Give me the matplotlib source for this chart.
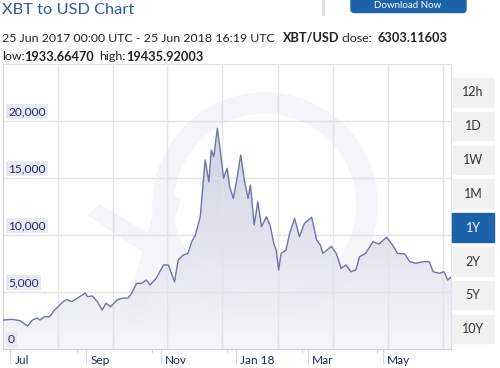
"""XBT to USD one-year chart, redrawn with matplotlib."""

import matplotlib

matplotlib.use("Agg")
import matplotlib.dates as mdates
import matplotlib.pyplot as plt
import matplotlib.transforms as mtransforms
import numpy as np
import pandas as pd
from matplotlib.patches import FancyBboxPatch, Polygon, Rectangle, Wedge

W, H = 500, 368

# ---- data ---------------------------------------------------------------
dates = [
    "2017-06-25", "2017-07-03", "2017-07-09", "2017-07-15", "2017-07-19",
    "2017-07-23", "2017-07-25", "2017-07-29", "2017-08-02", "2017-08-06",
    "2017-08-08", "2017-08-13", "2017-08-16", "2017-08-20", "2017-08-25",
    "2017-08-31", "2017-09-02", "2017-09-06", "2017-09-10", "2017-09-14",
    "2017-09-17", "2017-09-21", "2017-09-26", "2017-09-30", "2017-10-05",
    "2017-10-08", "2017-10-12", "2017-10-16", "2017-10-20", "2017-10-23",
    "2017-10-28", "2017-11-03", "2017-11-07", "2017-11-12", "2017-11-15",
    "2017-11-19", "2017-11-23", "2017-11-26", "2017-11-29", "2017-12-03",
    "2017-12-07", "2017-12-10", "2017-12-12", "2017-12-14", "2017-12-17",
    "2017-12-19", "2017-12-22", "2017-12-25", "2017-12-27", "2017-12-30",
    "2018-01-02", "2018-01-05", "2018-01-08", "2018-01-11", "2018-01-13",
    "2018-01-16", "2018-01-19", "2018-01-22", "2018-01-26", "2018-01-29",
    "2018-02-01", "2018-02-03", "2018-02-05", "2018-02-07", "2018-02-11",
    "2018-02-14", "2018-02-18", "2018-02-22", "2018-02-26", "2018-03-04",
    "2018-03-08", "2018-03-11", "2018-03-13", "2018-03-20", "2018-03-24",
    "2018-03-28", "2018-04-01", "2018-04-05", "2018-04-09", "2018-04-12",
    "2018-04-17", "2018-04-23", "2018-04-28", "2018-05-04", "2018-05-09",
    "2018-05-13", "2018-05-19", "2018-05-23", "2018-05-28", "2018-06-03",
    "2018-06-08", "2018-06-11", "2018-06-16", "2018-06-20", "2018-06-23",
    "2018-06-25 16:19",
]
close = [
    2540, 2600, 2480, 2010, 2540, 2720, 2540, 2830, 2830, 3420,
    3600, 4150, 4360, 4150, 4470, 4910, 4590, 4650, 4150, 3420,
    4010, 3710, 4300, 4450, 4470, 4880, 5760, 5760, 6050, 5610,
    6200, 7370, 7370, 5900, 7800, 8240, 8390, 9410, 10000, 11600,
    16580, 14670, 17450, 16870, 19360, 17740, 14970, 15850, 14230, 13220,
    14970, 17010, 14820, 13220, 14380, 10870, 12920, 10730, 11600, 10870,
    9270, 8680, 6930, 8390, 8680, 10150, 11460, 9850, 11020, 11550,
    9560, 9120, 8390, 9000, 8390, 7080, 7370, 6780, 6930, 8090,
    8390, 9410, 9210, 9800, 9120, 8390, 8330, 7660, 7520, 7660,
    7660, 6780, 6640, 6780, 6050, 6303,
]

y_ticks = [0, 5000, 10000, 15000, 20000]
month_ticks = ["2017-07-01", "2017-09-01", "2017-11-01", "2018-01-01", "2018-03-01", "2018-05-01"]
month_labels = ["Jul", "Sep", "Nov", "Jan 18", "Mar", "May"]
ranges = ["12h", "1D", "1W", "1M", "1Y", "2Y", "5Y", "10Y"]
selected = "1Y"

start = pd.Timestamp("2017-06-25 00:00")
end = pd.Timestamp("2018-06-25 16:19")

NAVY = "#1f2a66"
LINE = "#6c75a6"
BLUE = "#1c63aa"

plt.rcParams["font.family"] = ["Lato", "DejaVu Sans"]

fig = plt.figure(figsize=(W / 100, H / 100), dpi=100)
fig.patch.set_facecolor("white")
# pixel coordinates, origin at top-left
px = mtransforms.Affine2D().scale(1 / W, -1 / H).translate(0, 1) + fig.transFigure

# ---- header ---------------------------------------------------------------
fig.text(2, 10, "XBT to USD Chart", transform=px, fontsize=11.8, color="#2d5aa5", va="center")
fig.patches.append(Rectangle((322, 0), 1.5, 15, transform=px, color="#e2e2e2", figure=fig))
fig.patches.append(FancyBboxPatch((351, -8), 115, 20.5, boxstyle="round,pad=0,rounding_size=3",
                                  transform=px, color=BLUE, figure=fig))
fig.text(408, 6, "Download Now", transform=px, fontsize=7, color="white", ha="center", va="center")

reg, bold, ink = 8.9, 9.2, "#222"
row1, row2 = 38, 57
fig.text(2, row1, "25 Jun 2017 00:00 UTC - 25 Jun 2018 16:19 UTC", transform=px,
         fontsize=reg, color=ink, va="center")
fig.text(283, row1, "XBT/USD", transform=px, fontsize=bold, color=ink, va="center", weight="bold")
fig.text(342, row1, "close:", transform=px, fontsize=reg, color=ink, va="center")
fig.text(377, row1, "6303.11603", transform=px, fontsize=bold, color=ink, va="center", weight="bold")
fig.text(2, row2, "low:", transform=px, fontsize=reg, color=ink, va="center")
fig.text(24, row2, "1933.66470", transform=px, fontsize=bold, color=ink, va="center", weight="bold")
fig.text(99, row2, "high:", transform=px, fontsize=reg, color=ink, va="center")
fig.text(126, row2, "19435.92003", transform=px, fontsize=bold, color=ink, va="center", weight="bold")

# ---- range buttons --------------------------------------------------------
for i, r in enumerate(ranges):
    top = 78 + i * 33.8
    sel = r == selected
    fig.patches.append(Rectangle((452, top), 42, 28.5, transform=px,
                                 color=BLUE if sel else "#f1f1f1", figure=fig))
    fig.text(473, top + 14.5, r, transform=px, fontsize=9, ha="center", va="center",
             color="white" if sel else "#333")

# ---- chart ----------------------------------------------------------------
L, T, R, B = 3, 64, 451, 349
ax = fig.add_axes([L / W, 1 - B / H, (R - L) / W, (B - T) / H])
ax.set_facecolor("white")

x = pd.to_datetime(dates, format="ISO8601")
y = np.array(close, dtype=float)

# watermark (faint X and ring of the logo)
wm = "#f4f4f9"
ax.add_patch(Wedge((265, 205), 112, 0, 360, width=20, transform=px, color=wm, zorder=0))
ax.add_patch(Polygon([(88, 215), (100, 205), (215, 275), (205, 292)], transform=px,
                     color=wm, zorder=0))
ax.add_patch(Polygon([(160, 190), (180, 200), (140, 322), (125, 318)], transform=px,
                     color=wm, zorder=0))

# gradient area
xn = mdates.date2num(x)
poly = Polygon(np.column_stack([np.r_[xn[0], xn, xn[-1]], np.r_[0, y, 0]]),
               closed=True, facecolor="none", edgecolor="none")
ax.add_patch(poly)
grad = np.linspace(0, 1, 256).reshape(-1, 1)
cmap = matplotlib.colors.LinearSegmentedColormap.from_list("g", ["#f4f4f9", "#b9bdd6"])
img = ax.imshow(grad, cmap=cmap, aspect="auto", origin="lower",
                extent=[xn[0], xn[-1], 0, 25000], zorder=1, alpha=0.85)
img.set_clip_path(poly)
ax.set_xlim(start, end)
ax.set_ylim(0, 25000)

ax.plot(x, y, color=LINE, lw=1.0, zorder=3)

# grid
for v in y_ticks[1:]:
    ax.axhline(v, color="#e3e3e3", lw=1, zorder=2)
for d in [45, 90, 134, 179, 224.5, 269.5, 314, 359]:
    ax.axvline(start + pd.Timedelta(days=d), color="#e3e3e3", lw=1, zorder=2)

# y labels inside the plot with a pale box
for v in y_ticks:
    ax.text(5 / (R - L), v + 330, f"{v:,}", transform=ax.get_yaxis_transform(),
            fontsize=8.6, color=NAVY, va="bottom", ha="left", zorder=5,
            bbox=dict(boxstyle="square,pad=0.18", fc="#e9e9f3", ec="none"))
ax.set_yticks([])

# x axis
ax.set_xticks(pd.to_datetime(month_ticks))
ax.set_xticklabels(month_labels, ha="left", fontsize=8.6, color=NAVY)
ax.tick_params(axis="x", direction="out", length=11, width=0.8, color="#d5d8e6", pad=-7)
offset = mtransforms.ScaledTranslation(4 / 100, 0, fig.dpi_scale_trans)
for lab in ax.get_xticklabels():
    lab.set_transform(lab.get_transform() + offset)
ax.xaxis.set_minor_locator(matplotlib.ticker.FixedLocator(
    mdates.date2num([start + pd.Timedelta(days=d) for d in [60.4, 121.6, 183, 244, 305]])))
ax.tick_params(axis="x", which="minor", length=3, width=0.8, color="#d5d8e6")

for s in ("left", "top", "right"):
    ax.spines[s].set_color("#e0e0e6")
ax.spines["left"].set_color("#d0d3e3")
ax.spines["bottom"].set_color("#cdd1e4")

fig.savefig("out.png", dpi=100)
